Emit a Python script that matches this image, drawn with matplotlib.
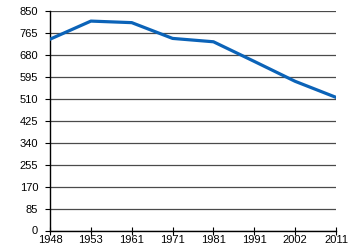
import matplotlib
matplotlib.use("Agg")
import matplotlib.pyplot as plt

plt.rcParams['font.family'] = ['Liberation Sans', 'DejaVu Sans']

years = ['1948', '1953', '1961', '1971', '1981', '1991', '2002', '2011']
values = [740, 810, 804, 743, 730, 654, 577, 515]
yticks = [0, 85, 170, 255, 340, 425, 510, 595, 680, 765, 850]

fig = plt.figure(figsize=(3.5, 2.5), dpi=100)
ax = fig.add_axes([0.143, 0.078, 0.817, 0.879])

x = range(len(years))
ax.plot(x, values, color='#0b63b8', linewidth=2.3, solid_joinstyle='round', zorder=3)

ax.set_xlim(0, len(years) - 1)
ax.set_ylim(0, 850)
ax.set_xticks(list(x))
ax.set_xticklabels(years)
ax.set_yticks(yticks)

ax.grid(axis='y', color='#4a4a4a', linewidth=0.9)
ax.set_axisbelow(True)
for s in ['top', 'right']:
    ax.spines[s].set_visible(False)
for s in ['left', 'bottom']:
    ax.spines[s].set_color('black')
    ax.spines[s].set_linewidth(1)

ax.tick_params(axis='x', direction='inout', length=6, labelsize=8, pad=0, colors='black')
ax.tick_params(axis='y', direction='out', length=3.6, labelsize=8, pad=5, colors='black')

fig.savefig('out.png', dpi=100)
